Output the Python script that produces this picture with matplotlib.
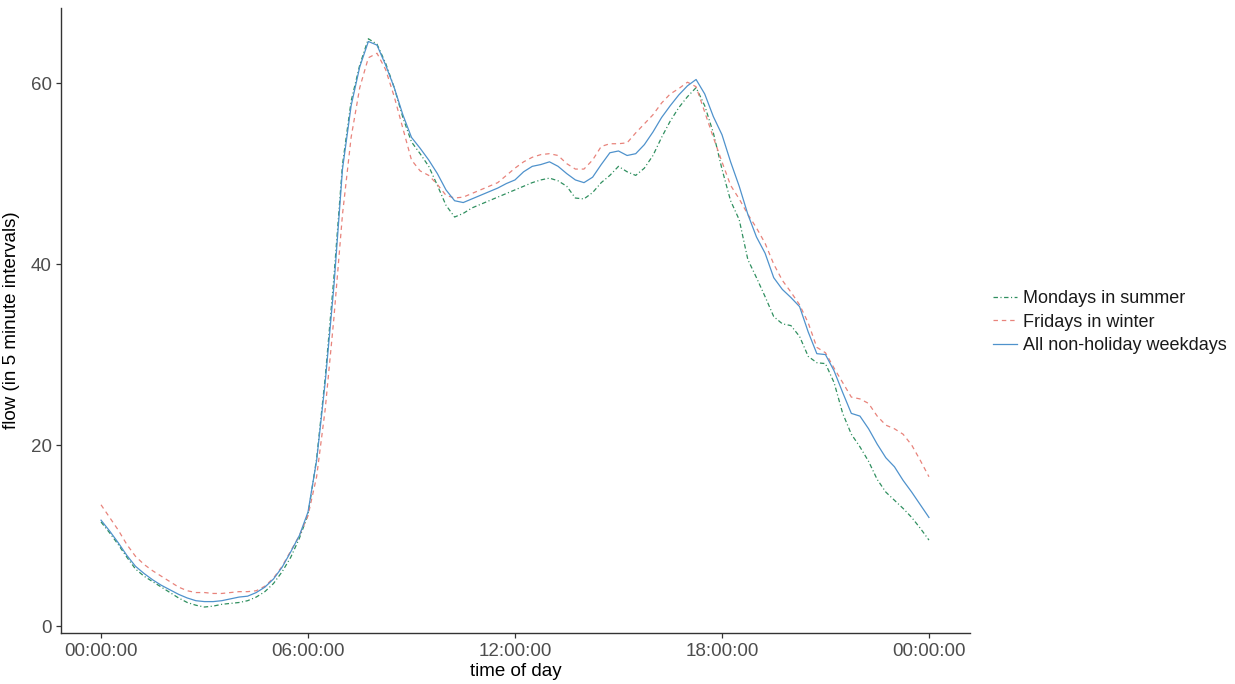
import numpy as np
import matplotlib
matplotlib.use("Agg")
import matplotlib.pyplot as plt

plt.rcParams['font.family'] = ['Liberation Sans', 'DejaVu Sans']
plt.rcParams['lines.scale_dashes'] = False

# time of day in hours (15-minute steps)
hours = [i * 0.25 for i in range(97)]

mondays_summer = [
    11.5, 10.3, 9.0, 7.6, 6.3, 5.5, 4.9, 4.3, 3.7, 3.1, 2.6, 2.3,
    2.1, 2.2, 2.4, 2.5, 2.6, 2.8, 3.2, 3.8, 4.7, 6.0, 7.6, 9.7,
    12.3, 18.5, 27.5, 38.5, 51.0, 58.0, 62.0, 64.9, 64.3, 62.2, 59.5, 56.2,
    53.5, 52.2, 50.8, 48.7, 46.5, 45.2, 45.6, 46.2, 46.6, 47.0, 47.4, 47.8,
    48.2, 48.6, 49.0, 49.3, 49.5, 49.2, 48.6, 47.3, 47.2, 47.9, 49.0, 49.8,
    50.8, 50.2, 49.8, 50.6, 52.0, 54.0, 55.8, 57.3, 58.5, 59.5, 57.5, 54.5,
    50.5, 47.0, 44.9, 40.5, 38.5, 36.4, 34.2, 33.4, 33.2, 32.0, 29.8, 29.1,
    29.0, 26.9, 23.5, 21.2, 19.8, 18.2, 16.2, 14.8, 13.9, 13.0, 12.0, 10.8,
    9.5,
]

fridays_winter = [
    13.4, 12.0, 10.6, 9.0, 7.7, 6.8, 6.1, 5.5, 4.9, 4.3, 3.9, 3.7,
    3.7, 3.6, 3.6, 3.7, 3.8, 3.8, 3.9, 4.4, 5.3, 6.6, 8.3, 10.0,
    12.2, 16.5, 24.0, 34.0, 45.5, 54.0, 59.5, 62.8, 63.3, 61.5, 58.5, 55.0,
    51.5, 50.3, 49.8, 48.8, 47.6, 47.3, 47.4, 47.8, 48.2, 48.6, 49.0, 49.8,
    50.6, 51.3, 51.8, 52.1, 52.2, 52.0, 51.1, 50.5, 50.5, 51.5, 53.0, 53.3,
    53.3, 53.4, 54.5, 55.5, 56.5, 57.8, 58.8, 59.4, 60.1, 59.6, 56.8, 54.0,
    51.3, 48.7, 47.2, 45.5, 44.0, 42.3, 40.0, 38.2, 36.9, 35.5, 33.5, 30.8,
    30.2, 28.5, 26.9, 25.3, 25.1, 24.6, 23.2, 22.2, 21.8, 21.2, 20.0, 18.3,
    16.5,
]

all_weekdays = [
    11.7, 10.5, 9.2, 7.8, 6.6, 5.8, 5.1, 4.5, 4.0, 3.5, 3.1, 2.8,
    2.7, 2.7, 2.8, 3.0, 3.2, 3.3, 3.7, 4.3, 5.2, 6.5, 8.2, 10.0,
    12.6, 18.3, 27.0, 37.5, 50.5, 57.5, 61.8, 64.6, 64.2, 62.0, 59.5, 56.5,
    54.0, 52.8, 51.5, 50.0, 48.2, 47.0, 46.8, 47.2, 47.6, 48.0, 48.4, 48.9,
    49.3, 50.2, 50.8, 51.0, 51.3, 50.8, 50.0, 49.3, 49.0, 49.6, 51.0, 52.3,
    52.5, 52.0, 52.2, 53.2, 54.6, 56.2, 57.5, 58.7, 59.7, 60.4, 58.8, 56.3,
    54.3, 51.3, 48.6, 45.5, 43.0, 41.2, 38.5, 37.2, 36.3, 35.3, 32.5, 30.1,
    30.0, 28.2, 25.8, 23.5, 23.2, 21.8, 20.1, 18.6, 17.6, 16.1, 14.8, 13.4,
    12.0,
]

series_labels = ["Mondays in summer", "Fridays in winter", "All non-holiday weekdays"]
x_ticks = [0, 6, 12, 18, 24]
x_ticklabels = ["00:00:00", "06:00:00", "12:00:00", "18:00:00", "00:00:00"]
y_ticks = [0, 20, 40, 60]

fig = plt.figure(figsize=(12.35, 6.84), dpi=100)
ax = fig.add_axes([61 / 1235, 1 - 633 / 684, (970 - 61) / 1235, (633 - 8) / 684])

ax.plot(hours, mondays_summer, color="#2f8f5f", lw=0.9, dashes=(3.2, 1.8, 0.8, 1.8),
        label=series_labels[0])
ax.plot(hours, fridays_winter, color="#e8837b", lw=0.9, dashes=(3.2, 2.8),
        label=series_labels[1])
ax.plot(hours, all_weekdays, color="#4f92cc", lw=0.9, label=series_labels[2])

ax.set_xlim(-1.16, 25.19)
ax.set_ylim(-0.77, 68.3)
ax.set_xticks(x_ticks)
ax.set_xticklabels(x_ticklabels)
ax.set_yticks(y_ticks)

for s in ["top", "right"]:
    ax.spines[s].set_visible(False)
for s in ["left", "bottom"]:
    ax.spines[s].set_color("#333333")
    ax.spines[s].set_linewidth(1.0)
ax.tick_params(axis="both", direction="out", length=3.5, width=0.9, color="#333333",
               labelcolor="#4d4d4d", labelsize=13.5)
ax.tick_params(axis="x", pad=4)
ax.tick_params(axis="y", pad=3)

ax.set_xlabel("time of day", fontsize=13.5, color="black", labelpad=2)
ax.set_ylabel("flow (in 5 minute intervals)", fontsize=13.5, color="black")
ax.yaxis.set_label_coords(-0.045, 0.5)

leg = fig.legend(loc="center left", bbox_to_anchor=(993 / 1235, 1 - 322 / 684),
                 frameon=False, fontsize=13, handlelength=1.35, handletextpad=0.3,
                 labelspacing=0.36, borderpad=0, borderaxespad=0)
for t in leg.get_texts():
    t.set_color("#1a1a1a")

fig.savefig("out.png", dpi=100)
